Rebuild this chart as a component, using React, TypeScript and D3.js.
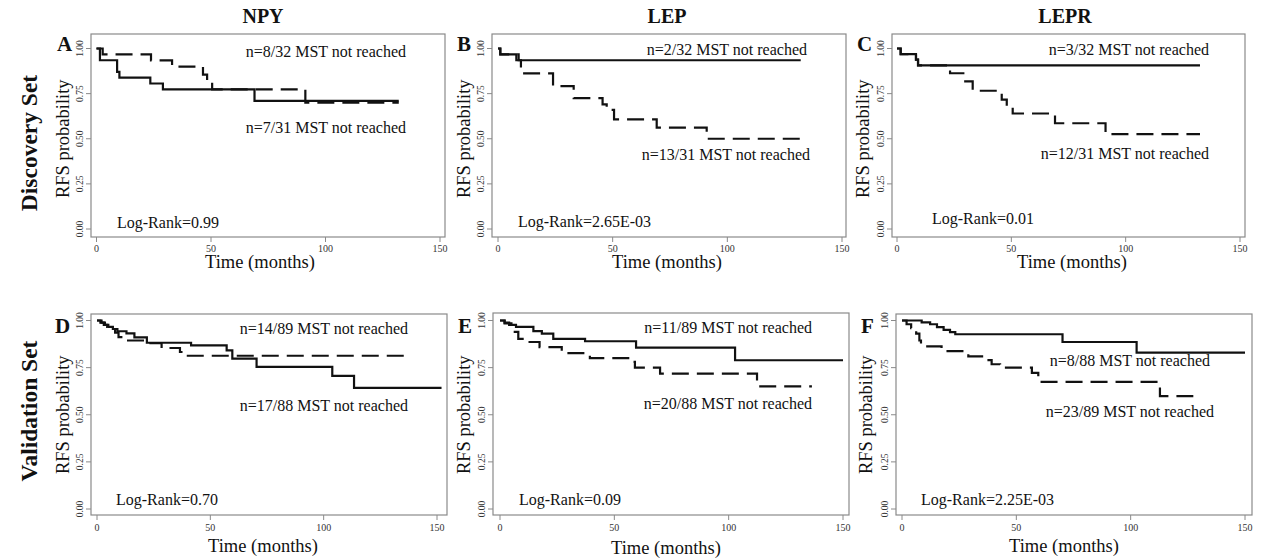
import React from 'react';
import * as d3 from 'd3';

// ---------- DATA ----------
const geneTitles = ['NPY', 'LEP', 'LEPR'];
const setLabels = ['Discovery Set', 'Validation Set'];
const panelLetters = ['A', 'B', 'C', 'D', 'E', 'F'];
const timeTicks = [0, 50, 100, 150];
const probTicks = [0, 0.25, 0.5, 0.75, 1];
const probTickLabels = ['0.00', '0.25', '0.50', '0.75', '1.00'];

// Panel A (NPY, discovery)
const aSolidTime = [0, 1.5, 9, 10, 23.5, 29, 69, 132];
const aSolidSurv = [1, 0.935, 0.87, 0.839, 0.806, 0.774, 0.71, 0.71];
const aDashTime = [0, 2.7, 23.8, 33, 46.5, 48.3, 50.5, 91.2, 132];
const aDashSurv = [1, 0.967, 0.934, 0.9, 0.855, 0.815, 0.774, 0.7, 0.7];
// Panel B (LEP, discovery)
const bSolidTime = [0, 1, 8, 132];
const bSolidSurv = [1, 0.968, 0.935, 0.935];
const bDashTime = [0, 1, 9, 10, 24, 33, 45.6, 47.4, 50.6, 69.2, 91, 132];
const bDashSurv = [1, 0.968, 0.935, 0.862, 0.792, 0.725, 0.69, 0.66, 0.607, 0.562, 0.5, 0.5];
// Panel C (LEPR, discovery)
const cSolidTime = [0, 1.6, 8.3, 9.2, 132.5];
const cSolidSurv = [1, 0.969, 0.938, 0.906, 0.906];
const cDashTime = [0, 1.6, 8.3, 9.2, 23.2, 29, 33.1, 45.8, 48, 50.6, 69.1, 91.2, 132.5];
const cDashSurv = [1, 0.969, 0.938, 0.906, 0.863, 0.818, 0.766, 0.717, 0.68, 0.64, 0.586, 0.526, 0.526];
// Panel D (NPY, validation)
const dSolidTime = [0, 2, 3.5, 5, 7, 9, 13, 16.5, 22, 41.5, 57.2, 59.7, 70.4, 103.8, 113.4, 152];
const dSolidSurv = [1, 0.989, 0.977, 0.966, 0.955, 0.943, 0.932, 0.91, 0.882, 0.868, 0.842, 0.798, 0.754, 0.706, 0.643, 0.643];
const dDashTime = [0, 1.5, 3, 4.5, 6, 8, 9.5, 13, 22, 28.5, 36.6, 37.8, 137];
const dDashSurv = [1, 0.989, 0.977, 0.966, 0.955, 0.935, 0.912, 0.894, 0.88, 0.854, 0.833, 0.813, 0.813];
// Panel E (LEP, validation)
const eSolidTime = [0, 2, 4, 7, 14.6, 18.3, 23.3, 37.2, 59.5, 102.8, 150];
const eSolidSurv = [1, 0.989, 0.977, 0.966, 0.944, 0.93, 0.903, 0.89, 0.856, 0.789, 0.789];
const eDashTime = [0, 2, 5, 8, 11.5, 17.3, 27, 29, 39.3, 56.9, 59, 70, 112.4, 136.4];
const eDashSurv = [1, 0.985, 0.94, 0.903, 0.886, 0.859, 0.838, 0.827, 0.8, 0.78, 0.75, 0.718, 0.651, 0.651];
// Panel F (LEPR, validation)
const fSolidTime = [0, 8.6, 12.3, 15.3, 18.2, 21, 23.3, 70.2, 102.6, 150];
const fSolidSurv = [1, 0.99, 0.98, 0.965, 0.95, 0.938, 0.927, 0.886, 0.83, 0.83];
const fDashTime = [0, 2, 4, 6.2, 7.6, 8.3, 17.3, 29, 37, 39.2, 42.9, 56.8, 59.6, 112.8, 127.4];
const fDashSurv = [1, 0.98, 0.96, 0.93, 0.894, 0.863, 0.838, 0.81, 0.79, 0.768, 0.75, 0.722, 0.674, 0.599, 0.599];

const upperNotes = [
  'n=8/32 MST not reached', 'n=2/32 MST not reached', 'n=3/32 MST not reached',
  'n=14/89 MST not reached', 'n=11/89 MST not reached', 'n=8/88 MST not reached',
];
const lowerNotes = [
  'n=7/31 MST not reached', 'n=13/31 MST not reached', 'n=12/31 MST not reached',
  'n=17/88 MST not reached', 'n=20/88 MST not reached', 'n=23/89 MST not reached',
];
const logRanks = ['Log-Rank=0.99', 'Log-Rank=2.65E-03', 'Log-Rank=0.01', 'Log-Rank=0.70', 'Log-Rank=0.09', 'Log-Rank=2.25E-03'];

const curves = [
  { solid: [aSolidTime, aSolidSurv], dash: [aDashTime, aDashSurv] },
  { solid: [bSolidTime, bSolidSurv], dash: [bDashTime, bDashSurv] },
  { solid: [cSolidTime, cSolidSurv], dash: [cDashTime, cDashSurv] },
  { solid: [dSolidTime, dSolidSurv], dash: [dDashTime, dDashSurv] },
  { solid: [eSolidTime, eSolidSurv], dash: [eDashTime, eDashSurv] },
  { solid: [fSolidTime, fSolidSurv], dash: [fDashTime, fDashSurv] },
];

// ---------- LAYOUT ----------
const layout = [
  { bx0: 91, bx1: 445, by0: 34, by1: 237, x0: 96.5, x1: 440, y1: 48.5, y0: 229, lx: 57, ly: 51, ylab: 69, tx: 260, ty: 268, tl: 252, up: [406, 57], lo: [406, 133], lr: [117, 228] },
  { bx0: 492, bx1: 846, by0: 34, by1: 237, x0: 498, x1: 842, y1: 48.5, y0: 229, lx: 457, ly: 51, ylab: 470, tx: 667, ty: 268, tl: 252, up: [807, 55], lo: [810, 160], lr: [518, 227] },
  { bx0: 892, bx1: 1245, by0: 34, by1: 237, x0: 897, x1: 1240, y1: 48.5, y0: 229, lx: 857, ly: 51, ylab: 869, tx: 1072, ty: 268, tl: 252, up: [1209, 55], lo: [1209, 159], lr: [932, 224] },
  { bx0: 91, bx1: 447, by0: 314, by1: 515, x0: 97, x1: 437, y1: 320.5, y0: 509, lx: 55, ly: 333, ylab: 69, tx: 263, ty: 552, tl: 531, up: [408, 334], lo: [408, 411], lr: [116, 505] },
  { bx0: 493, bx1: 849, by0: 313, by1: 515, x0: 500, x1: 843, y1: 320.5, y0: 509, lx: 458, ly: 333, ylab: 470, tx: 666, ty: 554, tl: 531, up: [812, 333], lo: [812, 409], lr: [519, 505] },
  { bx0: 896, bx1: 1252, by0: 314, by1: 515, x0: 902, x1: 1245, y1: 320.5, y0: 509, lx: 861, ly: 333, ylab: 872, tx: 1064, ty: 552, tl: 531, up: [1210, 366], lo: [1214, 417], lr: [921, 505] },
];
const titleX = [263, 667, 1065];
const rowCenterY = [143, 411];

const FONT = '"Liberation Serif", "Times New Roman", serif';

function Panel({ i }: { i: number }) {
  const L = layout[i];
  const x = d3.scaleLinear().domain([0, 150]).range([L.x0, L.x1]);
  const y = d3.scaleLinear().domain([0, 1]).range([L.y0, L.y1]);
  const line = d3
    .line<[number, number]>()
    .x((d) => x(d[0]))
    .y((d) => y(d[1]))
    .curve(d3.curveStepAfter);
  const toPts = (c: number[][]) => c[0].map((t, k) => [t, c[1][k]] as [number, number]);
  const c = curves[i];
  return (
    <g>
      <rect x={L.bx0} y={L.by0} width={L.bx1 - L.bx0} height={L.by1 - L.by0} fill="none" stroke="#8a8a8a" strokeWidth={1.2} />
      {timeTicks.map((t) => (
        <g key={'xt' + t}>
          <line x1={x(t)} x2={x(t)} y1={L.by1} y2={L.by1 + 5} stroke="#8a8a8a" strokeWidth={1} />
          <text x={x(t)} y={L.tl} fontSize={10} textAnchor="middle" fill="#333" fontFamily={FONT}>{t}</text>
        </g>
      ))}
      {probTicks.map((p, k) => (
        <g key={'yt' + p}>
          <line x1={L.bx0 - 5} x2={L.bx0} y1={y(p)} y2={y(p)} stroke="#8a8a8a" strokeWidth={1} />
          <text transform={`translate(${L.bx0 - 8},${y(p)}) rotate(-90)`} fontSize={9.5} textAnchor="middle" fill="#333" fontFamily={FONT}>{probTickLabels[k]}</text>
        </g>
      ))}
      <path d={line(toPts(c.dash)) || ''} fill="none" stroke="#111" strokeWidth={2.2} strokeDasharray="17,8" />
      <path d={line(toPts(c.solid)) || ''} fill="none" stroke="#111" strokeWidth={2.2} />
      <text x={L.lx} y={L.ly} fontSize={21} fontWeight="bold" fontFamily={FONT} fill="#111">{panelLetters[i]}</text>
      <text transform={`translate(${L.ylab},${(L.y0 + L.y1) / 2}) rotate(-90)`} fontSize={18.5} textAnchor="middle" fontFamily={FONT} fill="#111">RFS probability</text>
      <text x={L.tx} y={L.ty} fontSize={18.5} textAnchor="middle" fontFamily={FONT} fill="#111">Time (months)</text>
      <text x={L.up[0]} y={L.up[1]} fontSize={16} textAnchor="end" fontFamily={FONT} fill="#111">{upperNotes[i]}</text>
      <text x={L.lo[0]} y={L.lo[1]} fontSize={16} textAnchor="end" fontFamily={FONT} fill="#111">{lowerNotes[i]}</text>
      <text x={L.lr[0]} y={L.lr[1]} fontSize={16} fontFamily={FONT} fill="#111">{logRanks[i]}</text>
    </g>
  );
}

export default function App() {
  return (
    <svg width={1262} height={560} style={{ position: 'absolute', left: 0, top: 0, background: '#fff' }}>
      <rect x={0} y={0} width={1262} height={560} fill="#fff" />
      {geneTitles.map((g, k) => (
        <text key={g} x={titleX[k]} y={23} fontSize={20} fontWeight="bold" textAnchor="middle" fontFamily={FONT} fill="#111">{g}</text>
      ))}
      {setLabels.map((s, k) => (
        <text key={s} transform={`translate(37,${rowCenterY[k]}) rotate(-90)`} fontSize={23.5} fontWeight="bold" textAnchor="middle" fontFamily={FONT} fill="#111">{s}</text>
      ))}
      {layout.map((_, i) => (
        <Panel key={i} i={i} />
      ))}
    </svg>
  );
}
